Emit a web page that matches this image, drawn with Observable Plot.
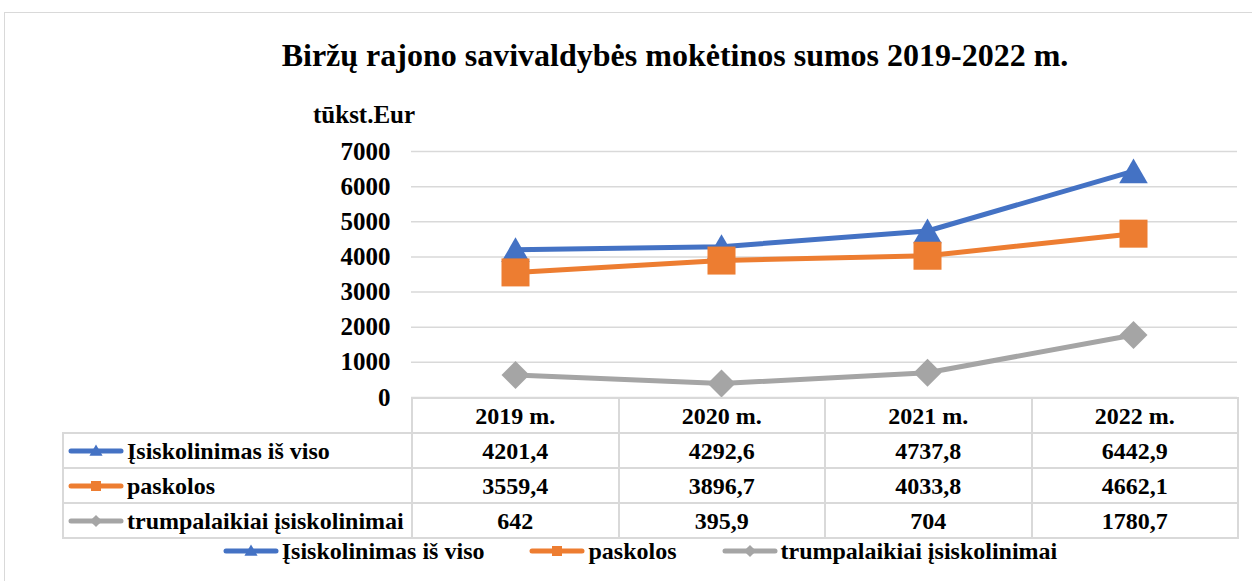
<!DOCTYPE html>
<html><head><meta charset="utf-8">
<script src="https://cdn.jsdelivr.net/npm/d3@7"></script>
<script src="https://cdn.jsdelivr.net/npm/@observablehq/plot@0.6"></script>
<style>
body{margin:0;background:#fff;font-family:"Liberation Serif","Times New Roman",serif;font-weight:bold;color:#000;width:1252px;height:581px;overflow:hidden;position:relative}
#frame{position:absolute;left:4px;top:12px;width:1400px;height:700px;border:1.5px solid #d9d9d9;box-sizing:border-box}
#title{position:absolute;left:0;width:1350px;top:37px;text-align:center;font-size:32px;line-height:36px}
#ylabel{position:absolute;left:313px;top:101px;font-size:25px;line-height:28px}
#chart{position:absolute;left:0;top:90px}
table{position:absolute;left:62px;top:397px;border-collapse:collapse;table-layout:fixed;font-size:24px;width:1175px}
td{border:2px solid #d9d9d9;height:31px;padding:0;text-align:center;line-height:26px;white-space:nowrap}
td.name{text-align:left;padding-left:4px}
td.corner{border-left:hidden;border-top:hidden}
td svg{vertical-align:middle;margin-right:3px;position:relative;top:-2px}
#legend{position:absolute;left:0;top:537px;width:1280px;display:flex;justify-content:center;gap:45px;font-size:24px;line-height:28px}
#legend span{display:flex;align-items:center}
#legend svg{margin-right:3px}
</style>
</head><body>
<div id="frame"></div>
<div id="title">Biržų rajono savivaldybės mokėtinos sumos 2019-2022 m.</div>
<div id="ylabel">tūkst.Eur</div>
<div id="chart"></div>
<table id="tbl"></table>
<div id="legend"></div>
<script>
const years = ["2019 m.", "2020 m.", "2021 m.", "2022 m."];
const seriesNames = ["Įsiskolinimas iš viso", "paskolos", "trumpalaikiai įsiskolinimai"];
const totalDebt = [4201.4, 4292.6, 4737.8, 6442.9];
const loans = [3559.4, 3896.7, 4033.8, 4662.1];
const shortTerm = [642, 395.9, 704, 1780.7];
const yTicks = [0, 1000, 2000, 3000, 4000, 5000, 6000, 7000];
const colors = ["#4472C4", "#ED7D31", "#A5A5A5"];
const symbols = ["triangle", "square", "diamond2"];
const symbolR = [10.6, 15.8, 12.6];
const symbolDy = [4, 0, 0];

const series = [totalDebt, loans, shortTerm];
const rowsBySeries = series.map((vals, i) => vals.map((v, j) => ({year: years[j], value: v, series: seriesNames[i]})));

const marks = [Plot.ruleY(yTicks, {stroke: "#d9d9d9", strokeWidth: 1.5})];
rowsBySeries.forEach((rows, i) => {
  marks.push(Plot.line(rows, {x: "year", y: "value", stroke: colors[i], strokeWidth: 5}));
  marks.push(Plot.dot(rows, {x: "year", y: "value", symbol: symbols[i], r: symbolR[i], fill: colors[i], stroke: "none", dy: symbolDy[i]}));
});

const chart = Plot.plot({
  width: 1252, height: 330,
  marginTop: 61, marginBottom: 23, marginLeft: 411, marginRight: 15,
  style: {fontFamily: "'Liberation Serif', serif", fontSize: "25px", fontWeight: "bold", background: "transparent", overflow: "visible", color: "#000"},
  x: {type: "point", domain: years, padding: 0.5, axis: null},
  y: {domain: [0, 7000], ticks: yTicks, tickSize: 0, tickPadding: 21, label: null, tickFormat: d3.format("d")},
  marks
});
document.getElementById("chart").appendChild(chart);

function swatch(i, w, h, size) {
  const svg = d3.create("svg").attr("width", w).attr("height", h);
  svg.append("line").attr("x1", 3).attr("x2", w - 3).attr("y1", h / 2).attr("y2", h / 2)
    .attr("stroke", colors[i]).attr("stroke-width", 5).attr("stroke-linecap", "round");
  const sym = [d3.symbolTriangle, d3.symbolSquare, d3.symbolDiamond2][i];
  svg.append("path").attr("d", d3.symbol(sym, size[i])()).attr("fill", colors[i])
    .attr("transform", `translate(${w / 2},${h / 2 + (i === 0 ? 1 : 0)})`);
  return svg.node();
}

const fmt = v => String(v).replace(".", ",");
const tbl = document.getElementById("tbl");
const cg = document.createElement("colgroup");
[349, 206.5, 206.5, 206.5, 206.5].forEach(w => { const c = document.createElement("col"); c.style.width = w + "px"; cg.appendChild(c); });
tbl.appendChild(cg);
const hr = tbl.insertRow();
hr.style.height = "35px";
const corner = hr.insertCell(); corner.className = "corner";
years.forEach(y => { hr.insertCell().textContent = y; });
series.forEach((vals, i) => {
  const r = tbl.insertRow();
  r.style.height = "35px";
  const c = r.insertCell(); c.className = "name";
  c.appendChild(swatch(i, 56, 20, [75, 100, 95]));
  c.appendChild(document.createTextNode(seriesNames[i]));
  vals.forEach(v => { r.insertCell().textContent = fmt(v); });
});

const lg = document.getElementById("legend");
seriesNames.forEach((n, i) => {
  const s = document.createElement("span");
  s.appendChild(swatch(i, 56, 24, [75, 100, 95]));
  s.appendChild(document.createTextNode(n));
  lg.appendChild(s);
});
</script>
</body></html>
